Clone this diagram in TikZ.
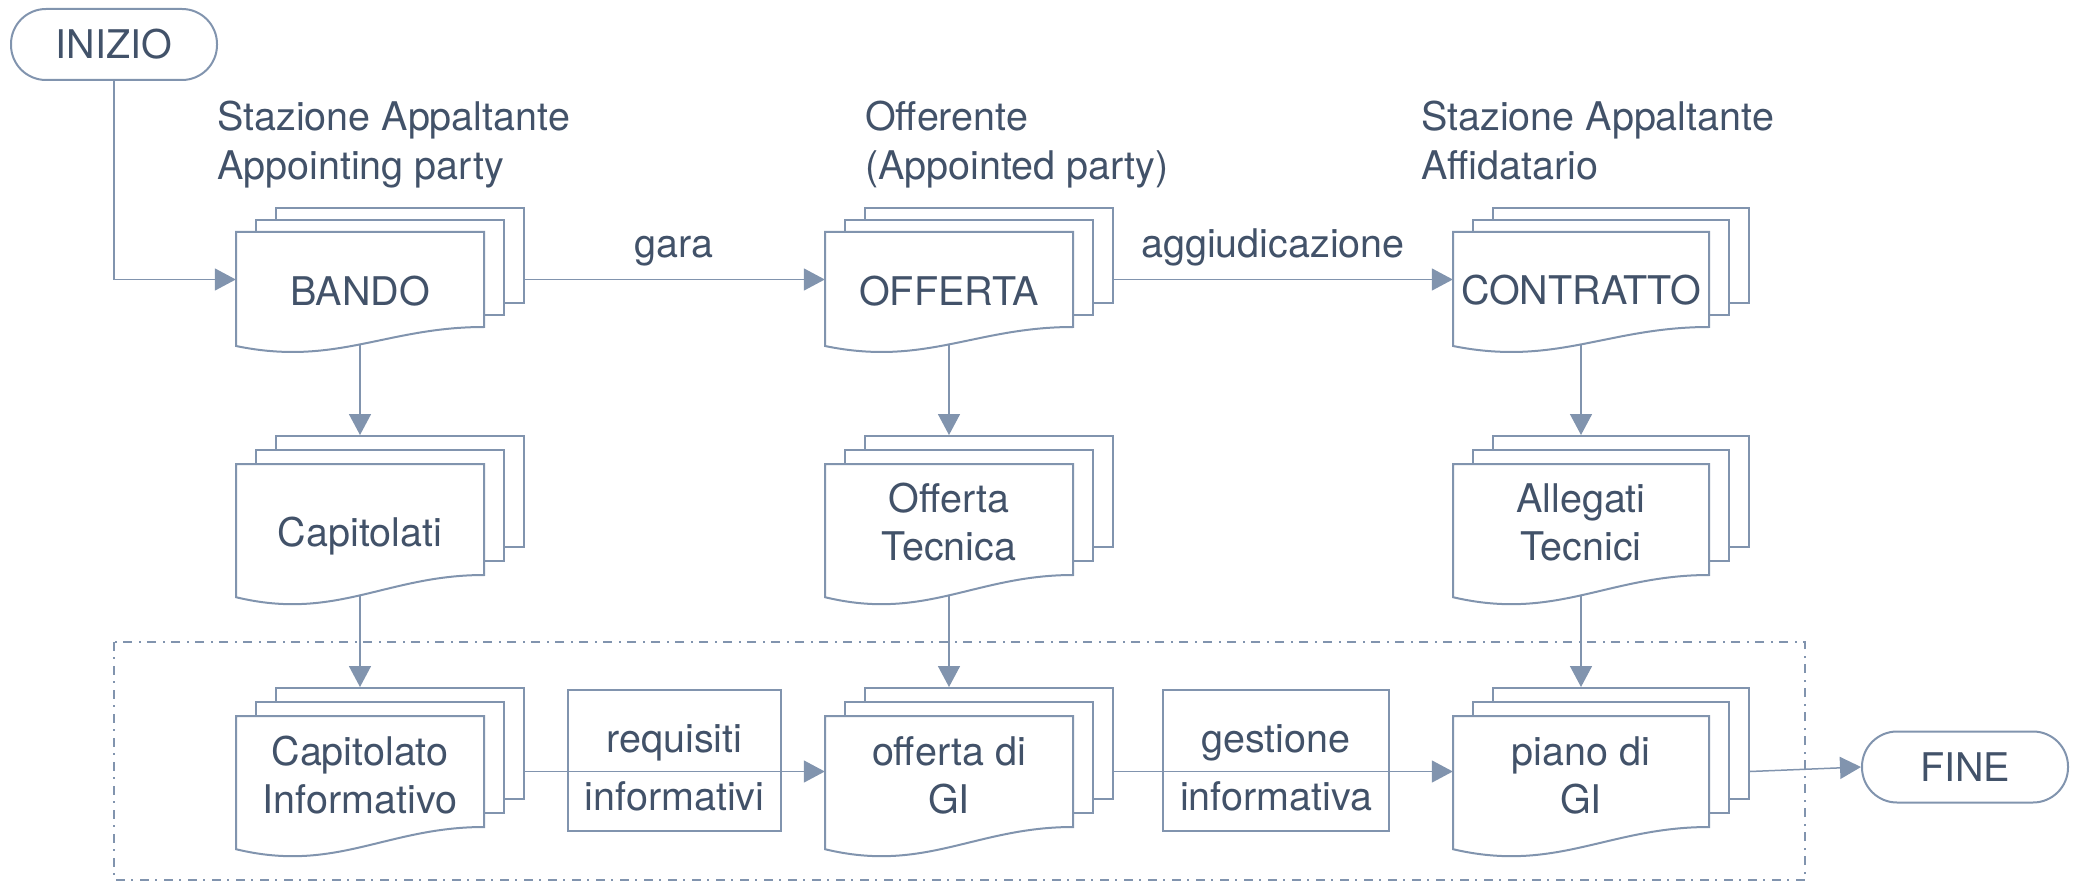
\documentclass[tikz,border=0pt]{standalone}
\usepackage{fontspec}
\setmainfont{TeX Gyre Heros}
\usetikzlibrary{arrows.meta}
\definecolor{lc}{RGB}{129,148,174}
\definecolor{tc}{RGB}{66,82,105}
\tikzset{
  page/.style={draw=lc, fill=white, line width=2pt, inner sep=0pt},
  frontbox/.style={inner sep=0pt, draw=none},
  pageline/.style={draw=lc, line width=2pt, line join=miter},
  doctext/.style={text=tc, font=\fontsize{39.5}{48}\selectfont, align=center, inner sep=0pt},
  toplabel/.style={text=tc, font=\fontsize{39.5}{49}\selectfont, align=left, inner sep=0pt, anchor=north west},
  lbltext/.style={text=tc, font=\fontsize{39.5}{58}\selectfont, align=center, inner sep=0pt},
  lblbox/.style={draw=lc, line width=2pt, inner sep=0pt},
  term/.style={draw=lc, line width=2pt, rounded corners=35pt, minimum width=206pt, minimum height=71pt, text=tc, font=\fontsize{39.5}{48}\selectfont, inner sep=0pt},
  conn/.style={draw=lc, line width=1.5pt},
  arr/.style={draw=lc, line width=1.5pt, -{Triangle[length=21pt,width=22pt]}},
  grp/.style={draw=lc, line width=2pt, dash pattern=on 9pt off 6pt on 2pt off 7pt}
}
% name, cx, top, w, h, text-center-y, text
\newcommand{\docstack}[7]{%
  \pgfmathsetmacro{\dsdy}{0.126*#5}%
  \pgfmathsetmacro{\dsd}{0.2*#5}%
  \pgfmathsetmacro{\dsp}{0.418*#5}%
  \pgfmathsetmacro{\dsL}{#2-#4/2}%
  \pgfmathsetmacro{\dsR}{#2+#4/2}%
  \pgfmathsetmacro{\dsB}{#3+#5}%
  \node[page, minimum width=#4pt, minimum height=#5pt] (#1-3) at ({#2+40},{#3-2*\dsdy+#5/2}) {};
  \node[page, minimum width=#4pt, minimum height=#5pt] (#1-2) at ({#2+20},{#3-\dsdy+#5/2}) {};
  \node[frontbox, minimum width=#4pt, minimum height=#5pt] (#1) at (#2,{#3+#5/2}) {};
  \draw[pageline, fill=white] (\dsL,{\dsB+\dsd}) -- (\dsL,#3) -- (\dsR,#3) -- (\dsR,\dsB)
     .. controls ({\dsR-0.395*#4},\dsB) and ({\dsL+0.403*#4},{\dsB+\dsp}) .. (\dsL,{\dsB+\dsd}) -- cycle;
  \coordinate (#1-w) at (#2,{\dsB+0.91*\dsd});
  \node[doctext] (#1-t) at (#2,#6) {#7};
}
\begin{document}
\begin{tikzpicture}[x=1pt,y=-1pt]
\useasboundingbox (0,0) rectangle (2076,885);

% group box
\draw[grp] (114,642) rectangle (1805,880);

% terminals
\node[term] (inizio) at (114,44.5) {INIZIO};
\node[term] (fine) at (1965,767) {FINE};

% column headers
\node[toplabel] (sa1) at (217,101) {Stazione Appaltante\\Appointing party};
\node[toplabel] (off) at (865,101) {Offerente\\(Appointed party)};
\node[toplabel] (sa2) at (1421,101) {Stazione Appaltante\\Affidatario};

% documents
\docstack{bando}{360}{232}{248}{95}{291}{BANDO}
\docstack{offerta}{949}{232}{248}{95}{291}{OFFERTA}
\docstack{contratto}{1581}{232}{256}{95}{290}{CONTRATTO}

\docstack{capit}{360}{464}{248}{111}{536}{Capitolati}
\docstack{offtec}{949}{464}{248}{111}{522}{Offerta\\Tecnica}
\docstack{alleg}{1581}{464}{256}{111}{522}{Allegati\\Tecnici}

\docstack{capinf}{360}{716}{248}{111}{775}{Capitolato\\Informativo}
\docstack{offgi}{949}{716}{248}{111}{775}{offerta di\\GI}
\docstack{piano}{1581}{716}{256}{111}{775}{piano di\\GI}

% label boxes
\node[lblbox, minimum width=213pt, minimum height=141pt] (req) at (674.5,760.5) {};
\node[lbltext] (req-t) at (674.5,768) {requisiti\\informativi};
\node[lblbox, minimum width=226pt, minimum height=141pt] (gest) at (1276,760.5) {};
\node[lbltext] (gest-t) at (1276,768) {gestione\\informativa};

% edge labels
\node[doctext, anchor=base] (gara) at (674,258) {gara};
\node[doctext, anchor=base] (aggiud) at (1273,258) {aggiudicazione};

% connectors
\draw[arr] (inizio.south) |- (bando.west);
\draw[arr] (bando-3.east |- bando.west) -- (offerta.west);
\draw[arr] (offerta-3.east |- offerta.west) -- (contratto.west);

\draw[arr] (bando-w) -- (bando-w |- capit-3.north);
\draw[arr] (offerta-w) -- (offerta-w |- offtec-3.north);
\draw[arr] (contratto-w) -- (contratto-w |- alleg-3.north);

\draw[arr] (capit-w) -- (capit-w |- capinf-3.north);
\draw[arr] (offtec-w) -- (offtec-w |- offgi-3.north);
\draw[arr] (alleg-w) -- (alleg-w |- piano-3.north);

\draw[arr] (capinf-3.east |- capinf.west) -- (offgi.west);
\draw[arr] (offgi-3.east |- offgi.west) -- (piano.west);
\draw[arr] (piano-3.east |- piano.west) -- (fine.west);
\end{tikzpicture}
\end{document}
